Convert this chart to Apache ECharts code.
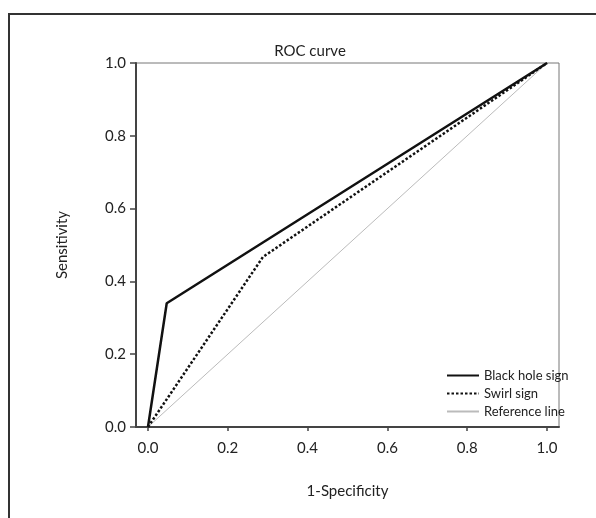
<!DOCTYPE html>
<html>
<head>
<meta charset="utf-8">
<script src="https://cdn.jsdelivr.net/npm/echarts@6/dist/echarts.min.js"></script>
<style>
  html, body { margin: 0; padding: 0; background: #fff; }
  .frame {
    position: absolute; left: 8px; top: 13px; width: 700px; height: 600px;
    border-left: 2px solid #333; border-top: 2px solid #333;
  }
  #chart { position: absolute; left: 0; top: 0; width: 596px; height: 518px; }
</style>
</head>
<body>
<div class="frame"></div>
<div id="chart"></div>
<script>
// ROC curve data
const tickValues = [0, 0.2, 0.4, 0.6, 0.8, 1.0]
const blackHole = [[0, 0], [0.047, 0.34], [1, 1]]
const swirl = [[0, 0], [0.288, 0.467], [1, 1]]
const reference = [[0, 0], [1, 1]]

const font = 'Lato, "Noto Sans", sans-serif'
const dom = echarts.init(document.getElementById('chart'))
const option = {
  backgroundColor: 'transparent',
  animation: false,
  title: {
    text: 'ROC curve',
    left: 305,
    textAlign: 'center',
    top: 39,
    textStyle: { fontFamily: font, fontSize: 15, fontWeight: 'normal', color: '#222' }
  },
  legend: {
    orient: 'vertical',
    left: 441,
    top: 364,
    itemWidth: 32,
    itemHeight: 10,
    itemGap: 5,
    itemStyle: { opacity: 0 },
    textStyle: { fontFamily: font, fontSize: 13, color: '#222' },
    data: ['Black hole sign', 'Swirl sign', 'Reference line']
  },
  grid: {
    left: 136,
    right: 37,
    top: 63,
    bottom: 91,
    show: true,
    borderColor: '#777',
    borderWidth: 1
  },
  xAxis: {
    type: 'value',
    min: -0.03,
    max: 1.03,
    name: '1-Specificity',
    nameLocation: 'middle',
    nameGap: 57,
    nameTextStyle: { fontFamily: font, fontSize: 15, color: '#222' },
    axisLine: { show: true, lineStyle: { color: '#444', width: 2 } },
    axisTick: { show: true, length: 4, customValues: tickValues, lineStyle: { color: '#444', width: 1.5 } },
    axisLabel: {
      customValues: tickValues,
      margin: 14,
      fontFamily: font, fontSize: 15, color: '#222',
      formatter: v => v.toFixed(1)
    },
    splitLine: { show: false }
  },
  yAxis: {
    type: 'value',
    min: 0,
    max: 1,
    interval: 0.2,
    name: 'Sensitivity',
    nameLocation: 'middle',
    nameGap: 66,
    nameTextStyle: { fontFamily: font, fontSize: 15, color: '#222' },
    axisLine: { show: true, onZero: false, lineStyle: { color: '#444', width: 2 } },
    axisTick: { show: true, length: 6, lineStyle: { color: '#444', width: 1.5 } },
    axisLabel: {
      margin: 10,
      fontFamily: font, fontSize: 15, color: '#222',
      formatter: v => v.toFixed(1)
    },
    splitLine: { show: false }
  },
  series: [
    {
      name: 'Black hole sign',
      type: 'line',
      data: blackHole,
      symbol: 'none',
      z: 3,
      lineStyle: { color: '#111', width: 2.5 },
      itemStyle: { color: '#111' }
    },
    {
      name: 'Swirl sign',
      type: 'line',
      data: swirl,
      symbol: 'none',
      z: 2,
      lineStyle: { color: '#111', width: 2.5, type: [2.5, 2] },
      itemStyle: { color: '#111' }
    },
    {
      name: 'Reference line',
      type: 'line',
      data: reference,
      symbol: 'none',
      z: 1,
      lineStyle: { color: '#bbb', width: 1 },
      itemStyle: { color: '#bbb' }
    }
  ]
}
dom.setOption(option)
</script>
</body>
</html>
